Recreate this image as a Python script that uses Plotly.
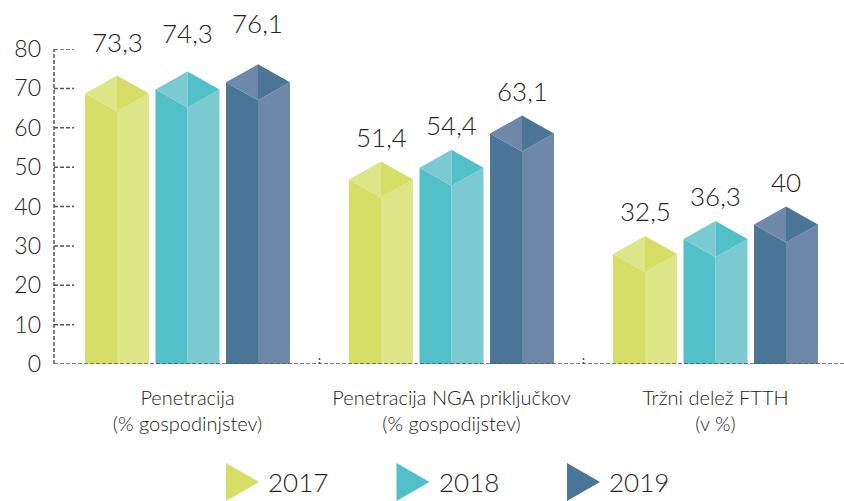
import plotly.graph_objects as go

categories = ["Penetracija<br>(% gospodinjstev)",
              "Penetracija NGA priključkov<br>(% gospodijstev)",
              "Tržni delež FTTH<br>(v %)"]
years = ["2017", "2018", "2019"]
values = {
    "2017": [73.3, 51.4, 32.5],
    "2018": [74.3, 54.4, 36.3],
    "2019": [76.1, 63.1, 40.0],
}
value_labels = {
    "2017": ["73,3", "51,4", "32,5"],
    "2018": ["74,3", "54,4", "36,3"],
    "2019": ["76,1", "63,1", "40"],
}
y_ticks = [0, 10, 20, 30, 40, 50, 60, 70, 80]

dark = {"2017": "#d5df65", "2018": "#52c0c9", "2019": "#4b7597"}
light = {"2017": "#dde589", "2018": "#7bcad1", "2019": "#6d88a8"}

W, H = 844, 501
offsets = [-0.267, 0.0, 0.267]
bw = 0.2424          # bar width in category units
cap = 4.57           # half-height of the top diamond in data units
label_gap = 7        # px between the bar peak and its value label
label_extra = {"2017": [8, 0, 0], "2018": [13, 0, 0], "2019": [16, 0, 0]}

FONT = "Lato"
TXT = "#222222"

fig = go.Figure()

for si, yr in enumerate(years):
    lx, ly, rx, ry, clx, cly, crx, cry = ([] for _ in range(8))
    for ci, v in enumerate(values[yr]):
        xc = ci + offsets[si]
        xl, xr = xc - bw / 2, xc + bw / 2
        side, front = v - cap, v - 2 * cap
        lx += [xl, xl, xc, xc, xl, None]; ly += [0, side, front, 0, 0, None]
        rx += [xc, xc, xr, xr, xc, None]; ry += [0, front, side, 0, 0, None]
        clx += [xl, xc, xc, xl, None]; cly += [side, v, front, side, None]
        crx += [xc, xr, xc, xc, None]; cry += [v, side, front, v, None]
    for xs, ys, col in [(lx, ly, dark[yr]), (rx, ry, light[yr]),
                        (clx, cly, light[yr]), (crx, cry, dark[yr])]:
        fig.add_trace(go.Scatter(x=xs, y=ys, mode="lines", fill="toself",
                                 fillcolor=col, line=dict(width=0, color=col),
                                 hoverinfo="skip", showlegend=False))
    for ci, v in enumerate(values[yr]):
        fig.add_annotation(x=ci + offsets[si], y=v, text=value_labels[yr][ci],
                           showarrow=False, yanchor="bottom",
                           yshift=label_gap + label_extra[yr][ci],
                           font=dict(family=FONT, size=26, color=TXT, weight=300))

# legend (drawn on its own small axes)
tri_w = 33 / 170.5
for i, yr in enumerate(years):
    fig.add_trace(go.Scatter(x=[i, i, i + tri_w, i], y=[-1, 1, 0, -1],
                             xaxis="x2", yaxis="y2", mode="lines", fill="toself",
                             fillcolor=dark[yr], line=dict(width=0, color=dark[yr]),
                             hoverinfo="skip", showlegend=False))
    fig.add_annotation(x=i + 40 / 170.5, y=0, xref="x2", yref="y2", text=yr,
                       showarrow=False, xanchor="left", yanchor="middle",
                       font=dict(family=FONT, size=26, color=TXT, weight=300))

dash_line = dict(color="#555555", width=1.5, dash="4px,2px")
shapes = []
# axis lines
shapes.append(dict(type="line", xref="x domain", yref="y", x0=0, x1=0, y0=0, y1=80, line=dash_line))
shapes.append(dict(type="line", xref="x domain", yref="y", x0=0, x1=1, y0=0, y1=0, line=dash_line))
# tick stubs
for t in y_ticks[1:]:
    shapes.append(dict(type="line", xref="x domain", yref="y", x0=0, x1=20 / 790,
                       y0=t, y1=t, line=dash_line))
# category separators
for s in [0.5, 1.5]:
    shapes.append(dict(type="line", xref="x", yref="y", x0=s, x1=s, y0=0, y1=1.9,
                       line=dict(color="#555555", width=1.5, dash="2px,2px")))

fig.update_layout(
    width=W, height=H,
    margin=dict(l=0, r=0, t=0, b=0, autoexpand=False),
    paper_bgcolor="white", plot_bgcolor="white",
    showlegend=False,
    shapes=shapes,
    xaxis=dict(domain=[54 / W, 1], range=[-0.5057, 2.4867], automargin=False,
               tickvals=[0, 1, 2], ticktext=categories, showgrid=False,
               zeroline=False, showline=False, ticks="", ticklabelstandoff=20,
               tickfont=dict(family=FONT, size=20, color=TXT, weight=300),
               fixedrange=True),
    yaxis=dict(domain=[137 / H, 452 / H], range=[0, 80], tickvals=y_ticks,
               automargin=False,
               showgrid=False, zeroline=False, showline=False, ticks="",
               ticklabelstandoff=12,
               tickfont=dict(family=FONT, size=23, color=TXT, weight=300),
               fixedrange=True),
    xaxis2=dict(domain=[0, 1], range=[-226 / 170.5, (W - 226) / 170.5],
                visible=False, fixedrange=True, anchor="y2", automargin=False),
    yaxis2=dict(domain=[0, 38 / H], range=[-1, 1], visible=False,
                fixedrange=True, anchor="x2", automargin=False),
)

fig.write_html("out.html", config={"displayModeBar": False},
               post_script="document.body.style.margin='0';document.body.style.overflow='hidden';")
